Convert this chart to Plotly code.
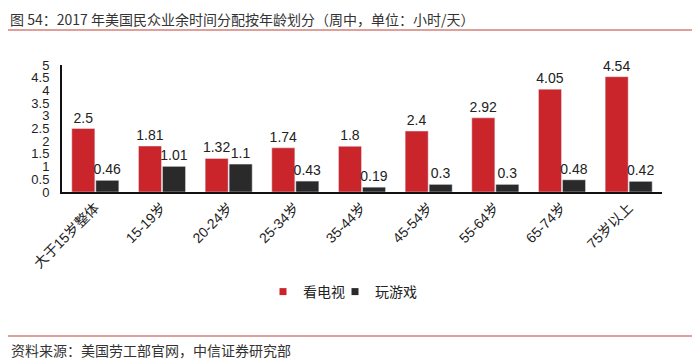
import plotly.graph_objects as go

categories = ["大于15岁整体", "15-19岁", "20-24岁", "25-34岁", "35-44岁", "45-54岁", "55-64岁", "65-74岁", "75岁以上"]
tv = [2.5, 1.81, 1.32, 1.74, 1.8, 2.4, 2.92, 4.05, 4.54]
games = [0.46, 1.01, 1.1, 0.43, 0.19, 0.3, 0.3, 0.48, 0.42]
y_ticks = [0, 0.5, 1, 1.5, 2, 2.5, 3, 3.5, 4, 4.5, 5]

# page has an 8px body margin; work in reference pixels and shift
OFF = 8
W, H = 700 - OFF, 361 - OFF
L, R, T, B = 62 - OFF, 38, 65 - OFF, 169
pw, ph = W - L - R, H - T - B

def px(x):
    return (x - OFF - L) / pw

def py(y):
    return (H - B - (y - OFF)) / ph

font_lat = "Liberation Sans, Arial, Noto Sans CJK SC, sans-serif"
font_cjk = "Noto Sans CJK SC, Microsoft YaHei, sans-serif"
RED, DARK = "#C9252B", "#2A2A2A"

fig = go.Figure()
fig.add_trace(go.Bar(x=categories, y=tv, name="看电视", marker_color=RED, showlegend=False,
                     text=[f"{v:g}" for v in tv], textposition="outside", cliponaxis=False,
                     textfont=dict(size=14, color="#222222", family=font_lat)))
fig.add_trace(go.Bar(x=categories, y=games, name="玩游戏", marker_color=DARK, showlegend=False,
                     text=[f"{v:g}" for v in games], textposition="outside", cliponaxis=False,
                     textfont=dict(size=14, color="#222222", family=font_lat)))
fig.add_trace(go.Scatter(x=[None], y=[None], mode="markers", name="看电视", legend="legend",
                         marker=dict(symbol="square", size=7, color=RED)))
fig.add_trace(go.Scatter(x=[None], y=[None], mode="markers", name="玩游戏", legend="legend2",
                         marker=dict(symbol="square", size=7, color=DARK)))

leg_common = dict(orientation="h", yanchor="middle", xanchor="left", y=py(292),
                  font=dict(size=14, family=font_cjk, color="#222222"),
                  itemwidth=30, bgcolor="rgba(0,0,0,0)")

fig.update_layout(
    width=W, height=H,
    margin=dict(l=L, r=R, t=T, b=B, autoexpand=False),
    paper_bgcolor="white", plot_bgcolor="white",
    barmode="group", bargap=0.28, bargroupgap=0.04,
    uniformtext=dict(minsize=14, mode="show"),
    font=dict(family=font_lat, size=14, color="#222222"),
    showlegend=True,
    legend=dict(x=px(263), **leg_common),
    legend2=dict(x=px(335), **leg_common),
    xaxis=dict(showline=True, linecolor="#111111", linewidth=2, ticks="", tickangle=-45,
               tickfont=dict(size=14, family=font_lat, color="#222222"), showgrid=False),
    yaxis=dict(range=[0, 5], tickvals=y_ticks, ticktext=[f"{v:g}" for v in y_ticks],
               showline=True, linecolor="#111111", linewidth=2, ticks="", showgrid=False,
               zeroline=False, ticklabelstandoff=8,
               tickfont=dict(size=13, family=font_lat, color="#222222")),
)

fig.add_annotation(text="图 54：2017 年美国民众业余时间分配按年龄划分（周中，单位：小时/天）",
                   xref="paper", yref="paper", x=px(9), y=py(8), xanchor="left", yanchor="top",
                   borderpad=0, showarrow=False, font=dict(size=14, family=font_cjk, color="#333333"))
fig.add_annotation(text="资料来源：美国劳工部官网，中信证券研究部",
                   xref="paper", yref="paper", x=px(9), y=py(350), xanchor="left", yanchor="middle",
                   showarrow=False, font=dict(size=14, family=font_cjk, color="#333333"))
for yy in (30, 336):
    fig.add_shape(type="line", xref="paper", yref="paper", x0=px(8), x1=px(700), y0=py(yy), y1=py(yy),
                  line=dict(color="#D2807A", width=1.5))

fig.write_html("out.html")
